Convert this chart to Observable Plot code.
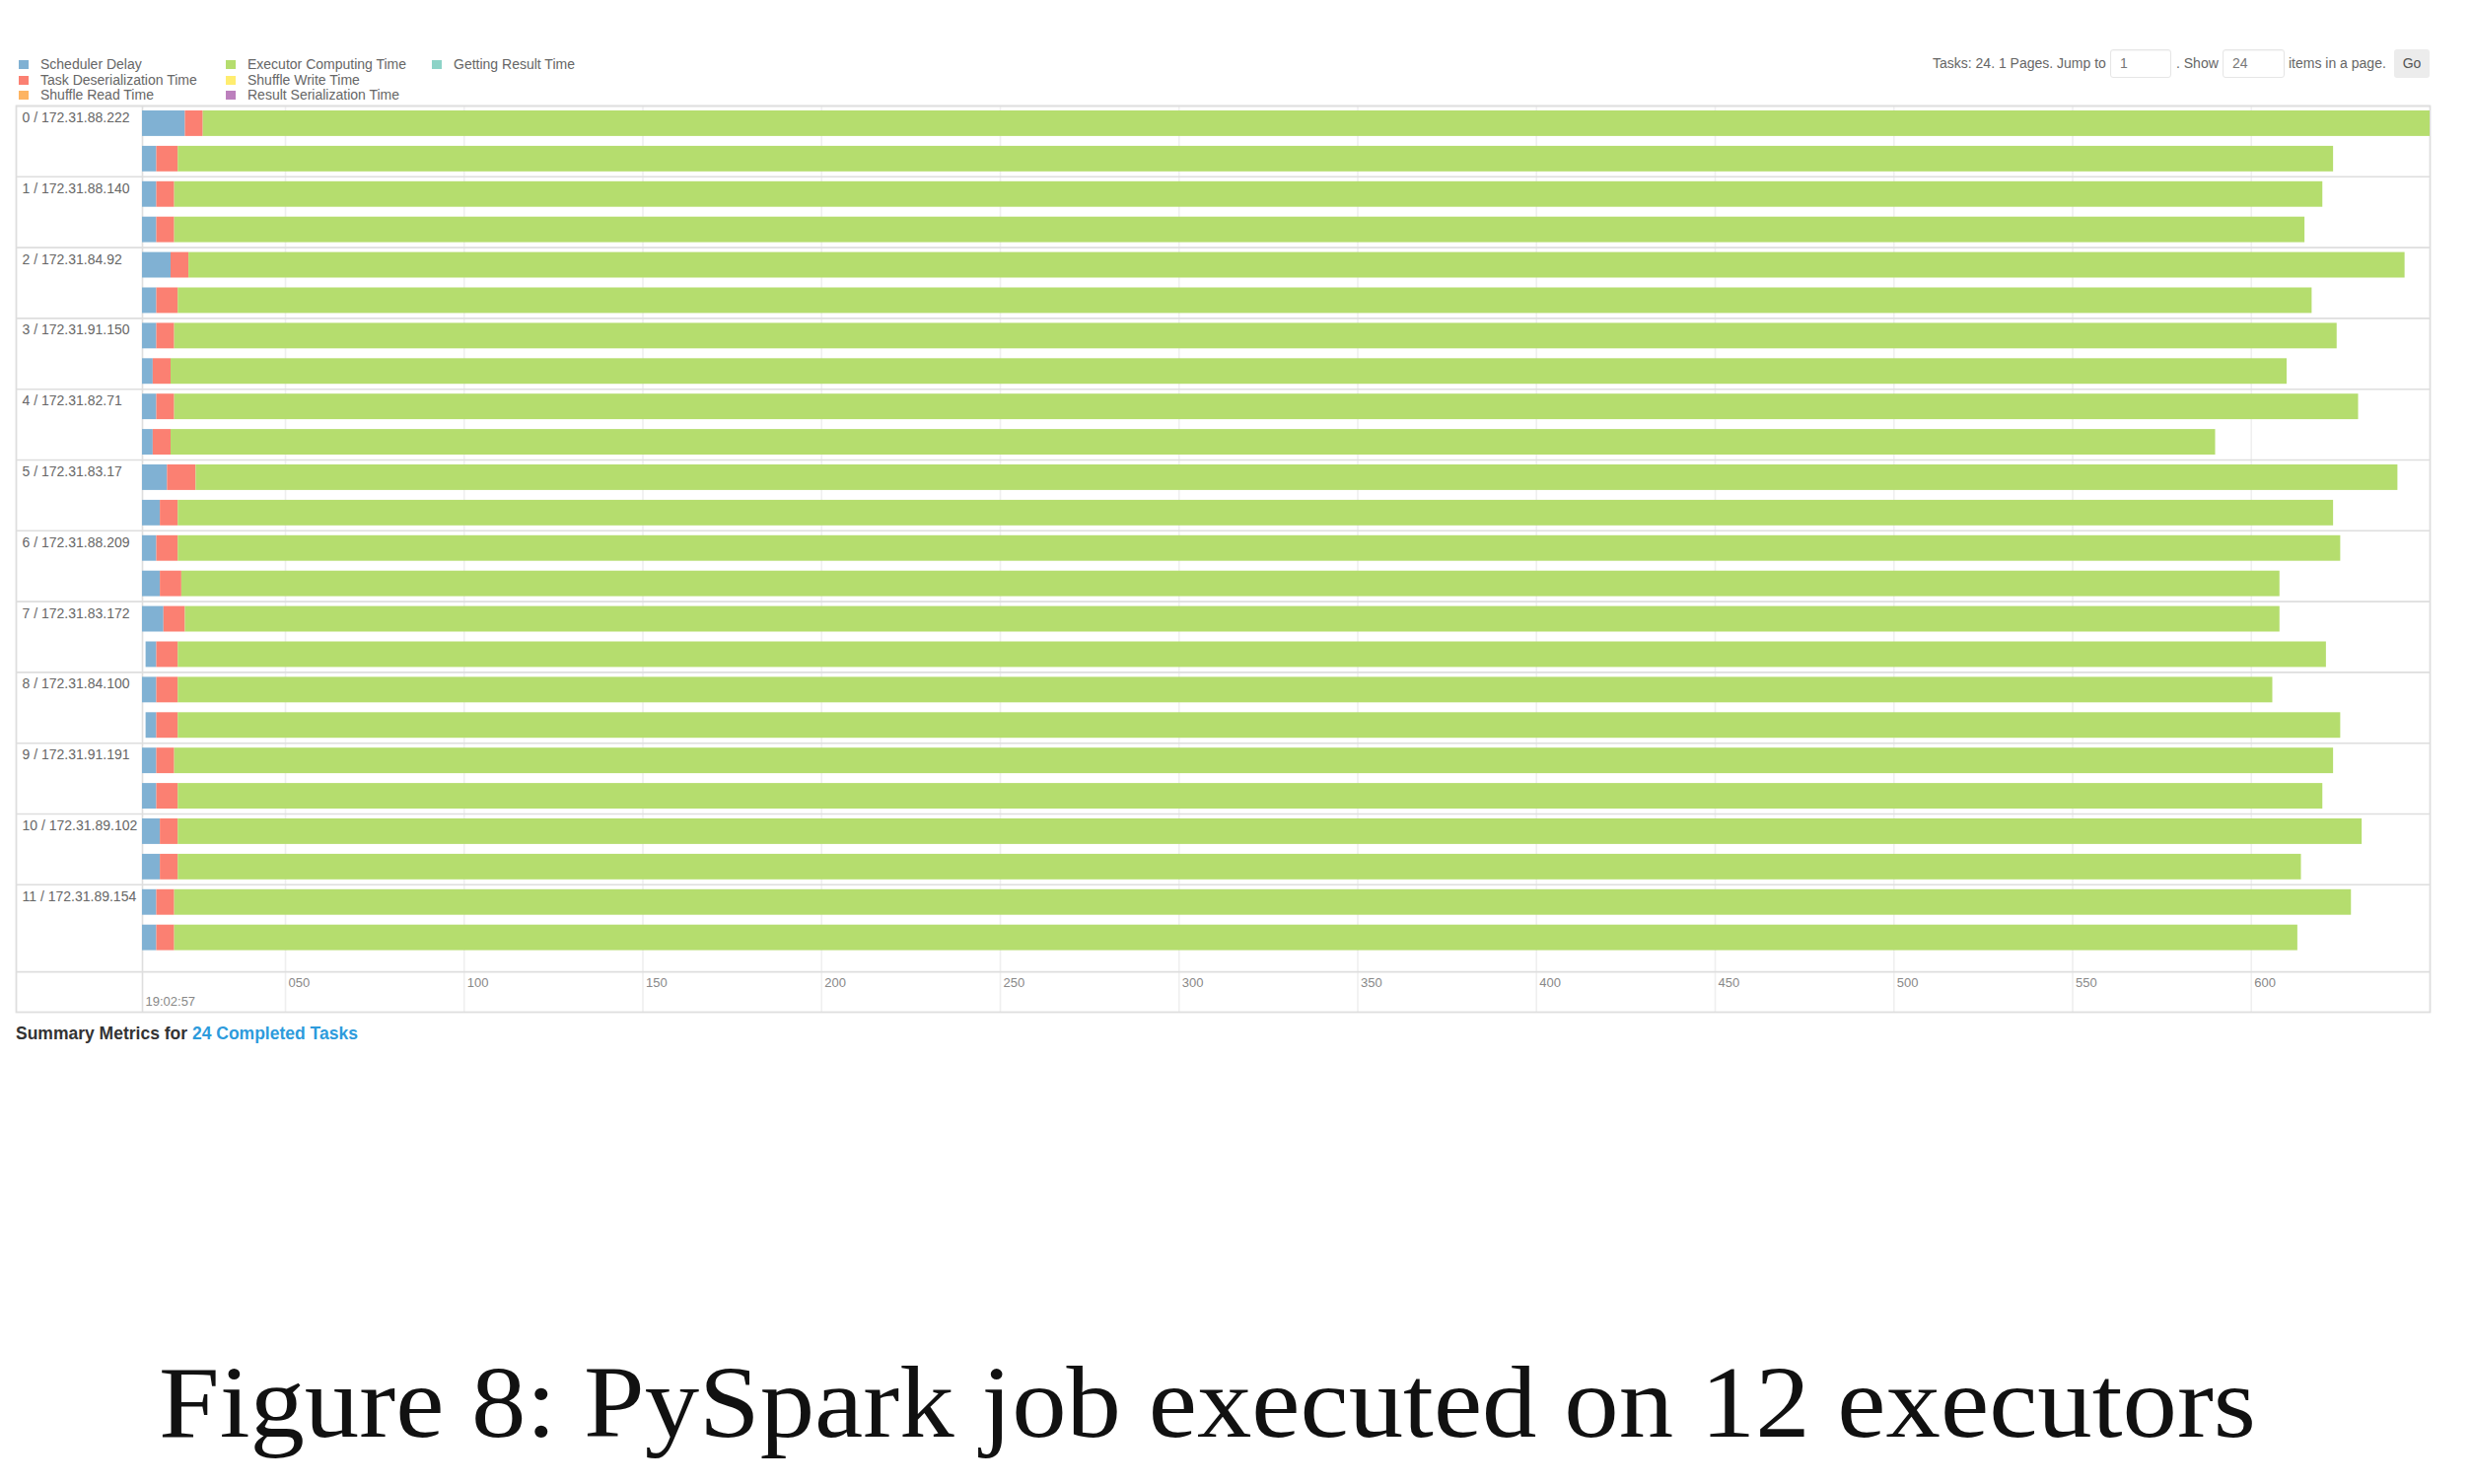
<!DOCTYPE html>
<html>
<head>
<meta charset="utf-8">
<script src="https://cdn.jsdelivr.net/npm/d3@7"></script>
<script src="https://cdn.jsdelivr.net/npm/@observablehq/plot@0.6"></script>
<style>
  html, body { margin: 0; padding: 0; background: #fff; }
  body { width: 2506px; height: 1505px; position: relative; overflow: hidden;
         font-family: "Liberation Sans", Arial, Helvetica, sans-serif; }
  #legend { position: absolute; left: 19px; top: 58px; display: grid;
            grid-template-columns: 210px 209px 220px; grid-template-rows: repeat(3, 15.5px);
            grid-auto-flow: column; font-size: 14px; color: #666; }
  #legend .item { display: flex; align-items: center; white-space: nowrap; line-height: 15.5px; }
  #legend .sw { width: 10px; height: 9px; margin-right: 12px; flex: none; }
  .ctl { position: absolute; font-size: 14px; color: #666; line-height: 28px; top: 50px; white-space: nowrap; }
  .box { position: absolute; top: 50px; height: 29px; border: 1px solid #e6e6e6; border-radius: 3px;
         box-sizing: border-box; font-size: 14px; color: #777; line-height: 27px; padding-left: 9px;
         box-shadow: inset 0 1px 1px rgba(0,0,0,0.04); background: #fff; }
  .btn { position: absolute; top: 50px; height: 29px; width: 36px; left: 2428px; background: #ececec;
         border-radius: 3px; font-size: 14px; color: #555; line-height: 29px; text-align: center; }
  #chart { position: absolute; left: 0; top: 100px; }
  #summary { position: absolute; left: 16px; top: 1038px; font-size: 17.5px; font-weight: bold; color: #333; line-height: 20px; }
  #summary span { color: #2d9bdc; }
  #caption { position: absolute; left: 0; top: 1340px; }
</style>
</head>
<body>
<div id="legend"></div>
<div class="ctl" style="left:1960px">Tasks: 24. 1 Pages. Jump to</div>
<div class="box" style="left:2140px;width:62px">1</div>
<div class="ctl" style="left:2207px">. Show</div>
<div class="box" style="left:2254px;width:63px">24</div>
<div class="ctl" style="left:2321px">items in a page.</div>
<div class="btn">Go</div>
<div id="chart"></div>
<div id="summary">Summary Metrics for <span>24 Completed Tasks</span></div>
<svg id="caption" width="2506" height="165">
  <text x="161" y="117" font-family="'Liberation Serif', 'Times New Roman', serif" font-size="104" fill="#111"
        textLength="2127" lengthAdjust="spacingAndGlyphs">Figure 8: PySpark job executed on 12 executors</text>
</svg>
<script>
// ---- data ----
const categories = ["Scheduler Delay", "Task Deserialization Time", "Shuffle Read Time",
  "Executor Computing Time", "Shuffle Write Time", "Result Serialization Time", "Getting Result Time"];
const colors = ["#80b1d3", "#fb8072", "#fdb462", "#b5dd6e", "#ffed6f", "#bc80bd", "#8dd3c7"];

const executors = ["0 / 172.31.88.222", "1 / 172.31.88.140", "2 / 172.31.84.92", "3 / 172.31.91.150",
  "4 / 172.31.82.71", "5 / 172.31.83.17", "6 / 172.31.88.209", "7 / 172.31.83.172",
  "8 / 172.31.84.100", "9 / 172.31.91.191", "10 / 172.31.89.102", "11 / 172.31.89.154"];

// two tasks per executor, in order; times in ms after 19:02:57
const taskExecutor = [0,0,1,1,2,2,3,3,4,4,5,5,6,6,7,7,8,8,9,9,10,10,11,11];
const launchMs            = [10,10,10,10,10,10,10,10,10,10,10,10,10,10,10,11,10,11,10,10,10,10,10,10];
const schedulerDelay      = [12, 4, 4, 4, 8, 4, 4, 3, 4, 3, 7, 5, 4, 5, 6, 3, 4, 3, 4, 4, 5, 5, 4, 4];
const taskDeserialization = [ 5, 6, 5, 5, 5, 6, 5, 5, 5, 5, 8, 5, 6, 6, 6, 6, 6, 6, 5, 6, 5, 5, 5, 5];
const executorComputing   = [623,603,601,596,620,597,605,592,611,572,616,603,605,587,586,601,586,605,604,600,611,594,609,594];

const xTicks = [50, 100, 150, 200, 250, 300, 350, 400, 450, 500, 550, 600];
const startLabel = "19:02:57";

// ---- legend ----
const legend = document.getElementById("legend");
categories.forEach((c, i) => {
  const it = document.createElement("div");
  it.className = "item";
  it.innerHTML = `<span class="sw" style="background:${colors[i]}"></span>${c}`;
  legend.appendChild(it);
});

// ---- segments ----
const segs = [];
const finish = [];
launchMs.forEach((t0, i) => {
  const parts = [["Scheduler Delay", schedulerDelay[i]],
                 ["Task Deserialization Time", taskDeserialization[i]],
                 ["Executor Computing Time", executorComputing[i]]];
  let t = t0;
  for (const [type, v] of parts) {
    segs.push({row: i, type, x1: t, x2: t + v});
    t += v;
  }
  finish.push(t);
});

const nRows = launchMs.length;
const rowPx = 35.9;
const axisTop = 24.46; // bottom of the last executor group (row units)
const groupTops = executors.map((e, g) => taskExecutor.indexOf(g));
const lineColor = "#dedede";

const chart = Plot.plot({
  width: 2506,
  height: 930,
  marginLeft: 16,
  marginRight: 42,
  marginTop: 7,
  marginBottom: 4,
  x: {domain: [d3.min(launchMs), d3.max(finish)], range: [144, 2464], axis: null},
  y: {type: "linear", domain: [0, nRows], range: [7, 7 + nRows * rowPx], axis: null},
  color: {domain: categories, range: colors},
  style: {fontFamily: "'Liberation Sans', Arial, sans-serif", background: "transparent", overflow: "visible"},
  marks: [
    Plot.ruleX(xTicks, {x: d => d, stroke: "#efefef", strokeWidth: 1.6}),
    Plot.ruleX([d3.min(launchMs)], {x: d => d, stroke: lineColor, strokeWidth: 1.6}),
    Plot.ruleY(groupTops.concat([axisTop]), {y: d => d, stroke: lineColor, strokeWidth: 1.6}),
    Plot.frame({stroke: lineColor, strokeWidth: 1.8}),
    Plot.rect(segs, {x1: "x1", x2: "x2", y1: "row", y2: d => d.row + 1,
                     insetTop: 5, insetBottom: 5, fill: "type"}),
    Plot.text(executors, {y: (d, i) => groupTops[i], text: d => d, frameAnchor: "left",
                          textAnchor: "start", dx: 6, dy: 12, fontSize: 14, fill: "#666"}),
    Plot.text(xTicks, {x: d => d, y: () => axisTop, text: d => d3.format("03d")(d),
                       textAnchor: "start", dx: 3, dy: 11, fontSize: 13, fill: "#888"}),
    Plot.text([d3.min(launchMs)], {x: d => d, y: () => axisTop, text: () => startLabel,
                       textAnchor: "start", dx: 3, dy: 30, fontSize: 13, fill: "#888"})
  ]
});
document.getElementById("chart").appendChild(chart);
</script>
</body>
</html>
